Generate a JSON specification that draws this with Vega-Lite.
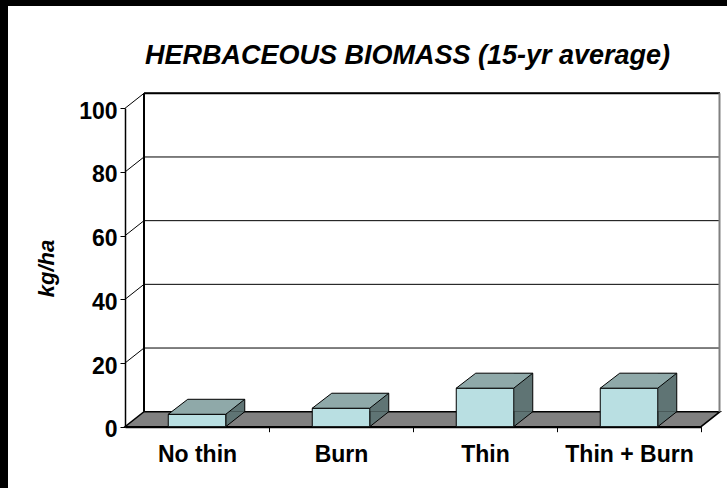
{
  "$schema": "https://vega.github.io/schema/vega-lite/v6.json",
  "width": 719,
  "height": 482,
  "autosize": {"type": "none"},
  "padding": {"left": 8, "top": 6, "right": 0, "bottom": 0},
  "background": "black",
  "config": {"view": {"fill": "white", "stroke": null}, "font": "Liberation Sans"},
  "title": {
    "text": "HERBACEOUS BIOMASS (15-yr average)",
    "font": "Liberation Sans",
    "fontSize": 27,
    "fontWeight": "bold",
    "fontStyle": "italic",
    "color": "black",
    "anchor": "middle",
    "frame": "group",
    "baseline": "alphabetic",
    "offset": -85,
    "dx": 40
  },
  "datasets": {
    "biomass": [
      {"treatment": "No thin", "biomass": 3.9},
      {"treatment": "Burn", "biomass": 5.8},
      {"treatment": "Thin", "biomass": 12.1},
      {"treatment": "Thin + Burn", "biomass": 12.1}
    ],
    "levels": [
      {"level": 20}, {"level": 40}, {"level": 60}, {"level": 80}, {"level": 100}
    ]
  },
  "layer": [
    {
      "data": {"values": [{"level": 0}]},
      "mark": {"type": "point", "shape": "M-72,0 L504,0 L523,-15 L-53,-15 Z", "size": 4, "filled": true, "fill": "#808080", "stroke": "black", "strokeWidth": 1.5, "opacity": 1, "strokeJoin": "miter"},
      "encoding": {
        "x": {"datum": "No thin", "type": "nominal", "scale": {"type": "band", "domain": ["No thin", "Burn", "Thin", "Thin + Burn"], "range": [117, 693], "paddingInner": 0, "paddingOuter": 0}},
        "y": {"field": "level", "type": "quantitative", "scale": {"type": "linear", "domain": [0, 100], "range": [420.7, 102.3], "nice": false, "zero": false}}
      }
    },
    {
      "data": {"name": "levels"},
      "mark": {"type": "point", "shape": "M-72,0 L-53,-15 L523,-15", "size": 4, "filled": false, "fill": null, "stroke": "black", "strokeWidth": 1, "opacity": 1},
      "encoding": {
        "x": {"datum": "No thin", "type": "nominal"},
        "y": {"field": "level", "type": "quantitative"}
      }
    },
    {
      "data": {"values": [{"level": 100}]},
      "mark": {"type": "point", "shape": "M-53,-15 L523,-15", "size": 4, "filled": false, "fill": null, "stroke": "black", "strokeWidth": 2, "opacity": 1},
      "encoding": {
        "x": {"datum": "No thin", "type": "nominal"},
        "y": {"field": "level", "type": "quantitative"}
      }
    },
    {
      "data": {"values": [{"bottom": 0, "top": 100}]},
      "mark": {"type": "rule", "color": "black", "strokeWidth": 2, "xOffset": -53, "yOffset": -15, "y2Offset": -15},
      "encoding": {
        "x": {"datum": "No thin", "type": "nominal"},
        "y": {"field": "bottom", "type": "quantitative"},
        "y2": {"field": "top"}
      }
    },
    {
      "data": {"values": [{"bottom": 0, "top": 100}]},
      "mark": {"type": "rule", "color": "#808080", "strokeWidth": 2, "xOffset": 522.5, "yOffset": -15, "y2Offset": -15},
      "encoding": {
        "x": {"datum": "No thin", "type": "nominal"},
        "y": {"field": "bottom", "type": "quantitative"},
        "y2": {"field": "top"}
      }
    },
    {
      "data": {"name": "biomass"},
      "mark": {"type": "bar", "width": 19, "xOffset": 38.25, "yOffset": -15, "y2Offset": -15, "fill": "#5F7474", "strokeWidth": 0},
      "encoding": {
        "x": {"field": "treatment", "type": "nominal"},
        "y": {"field": "biomass", "type": "quantitative"},
        "y2": {"datum": 0}
      }
    },
    {
      "data": {"name": "biomass"},
      "mark": {"type": "point", "shape": "M28.75,-15 L28.75,0 L47.75,-15", "size": 4, "filled": true, "fill": "#5F7474", "stroke": "black", "strokeWidth": 1, "opacity": 1},
      "encoding": {
        "x": {"field": "treatment", "type": "nominal"},
        "y": {"datum": 0, "type": "quantitative"}
      }
    },
    {
      "data": {"name": "biomass"},
      "mark": {"type": "rule", "color": "black", "strokeWidth": 1, "xOffset": 47.75, "yOffset": -15, "y2Offset": -15},
      "encoding": {
        "x": {"field": "treatment", "type": "nominal"},
        "y": {"field": "biomass", "type": "quantitative"},
        "y2": {"datum": 0}
      }
    },
    {
      "data": {"name": "biomass"},
      "mark": {"type": "bar", "width": 57.5, "fill": "#B9DFE2", "stroke": "black", "strokeWidth": 1},
      "encoding": {
        "x": {
          "field": "treatment", "type": "nominal",
          "axis": {"title": null, "offset": -61.3, "tickOffset": 72, "labelOffset": -72, "tickSize": 5, "tickColor": "black", "domainColor": "black", "domainWidth": 2, "labelFont": "Liberation Sans", "labelFontSize": 23, "labelFontWeight": "bold", "labelColor": "black", "labelAngle": 0, "labelAlign": "center", "labelBaseline": "top", "labelFlush": false, "labelOverlap": false, "labelBound": false, "labelPadding": 12, "grid": false}
        },
        "y": {
          "field": "biomass", "type": "quantitative",
          "axis": {"title": "kg/ha", "offset": -117, "values": [0, 20, 40, 60, 80, 100], "grid": false, "tickSize": 5, "tickColor": "black", "domainColor": "black", "domainWidth": 1.5, "labelFont": "Liberation Sans", "labelFontSize": 23, "labelFontWeight": "bold", "labelColor": "black", "labelPadding": 3, "labelBaseline": "middle", "labelOffset": 3, "titleFont": "Liberation Sans", "titleFontSize": 22, "titleFontWeight": "bold", "titleFontStyle": "italic", "titleColor": "black", "titleAngle": -90, "titleX": -72, "titleY": 262, "titleAlign": "center", "titleBaseline": "alphabetic"}
        },
        "y2": {"datum": 0}
      }
    },
    {
      "data": {"name": "biomass"},
      "mark": {"type": "point", "shape": "M-28.75,0 L28.75,0 L47.75,-15 L-9.25,-15 Z", "size": 4, "filled": true, "fill": "#8FA9A9", "stroke": "black", "strokeWidth": 1, "opacity": 1},
      "encoding": {
        "x": {"field": "treatment", "type": "nominal"},
        "y": {"field": "biomass", "type": "quantitative"}
      }
    }
  ]
}
